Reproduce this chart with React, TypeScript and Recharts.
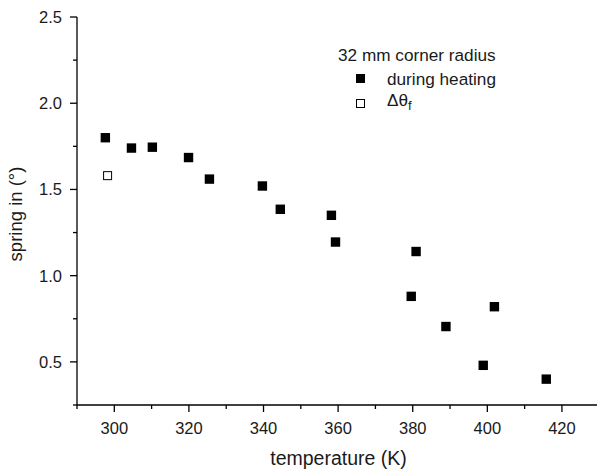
import React from 'react';
import { ScatterChart, Scatter, XAxis, YAxis } from 'recharts';

// during heating
const heatingTemp = [297.6, 304.6, 310.2, 319.9, 325.5, 339.7, 344.5, 358.2, 359.3, 379.6, 380.9, 388.9, 398.9, 401.9, 415.8];
const heatingSpring = [1.80, 1.74, 1.745, 1.685, 1.56, 1.52, 1.385, 1.35, 1.195, 0.88, 1.14, 0.705, 0.48, 0.82, 0.40];

// delta theta f
const finalTemp = [298.2];
const finalSpring = [1.58];

const xTicks = [290, 300, 310, 320, 330, 340, 350, 360, 370, 380, 390, 400, 410, 420];
const yTicks = [0.25, 0.5, 0.75, 1.0, 1.25, 1.5, 1.75, 2.0, 2.25, 2.5];

const heatingData = heatingTemp.map((t, i) => ({ t, s: heatingSpring[i] }));
const finalData = finalTemp.map((t, i) => ({ t, s: finalSpring[i] }));

const FONT = '"Liberation Sans", Arial, sans-serif';

const XTick = (props: any) => {
  const { x, y, payload } = props;
  const major = payload.value % 20 === 0;
  return (
    <g>
      <line x1={x} x2={x} y1={y} y2={y + (major ? 7 : 4)} stroke="#000" strokeWidth={1.3} />
      {major && (
        <text x={x} y={y + 23} textAnchor="middle" dominantBaseline="central" fontSize={16.5} fontFamily={FONT} fill="#1a1a1a">
          {payload.value}
        </text>
      )}
    </g>
  );
};

const YTick = (props: any) => {
  const { x, y, payload } = props;
  const major = Math.abs((payload.value * 2) % 1) < 1e-6;
  return (
    <g>
      <line x1={x - (major ? 7 : 4)} x2={x} y1={y} y2={y} stroke="#000" strokeWidth={1.3} />
      {major && (
        <text x={x - 15} y={y} textAnchor="end" dominantBaseline="central" fontSize={16.5} fontFamily={FONT} fill="#1a1a1a">
          {payload.value.toFixed(1)}
        </text>
      )}
    </g>
  );
};

const FilledSquare = (props: any) => (
  <rect x={props.cx - 4.7} y={props.cy - 4.7} width={9.4} height={9.4} fill="#000" />
);

const OpenSquare = (props: any) => (
  <rect x={props.cx - 4} y={props.cy - 4} width={8} height={8} fill="#fff" stroke="#000" strokeWidth={1} />
);

export default function App() {
  return (
    <div style={{ position: 'absolute', left: 0, top: 0, width: 597, height: 471, background: '#fff', overflow: 'hidden' }}>
      <ScatterChart width={597} height={471} margin={{ top: 17, right: 0, bottom: 0, left: 0 }}>
        <XAxis
          type="number"
          dataKey="t"
          domain={[290, 429.4]}
          ticks={xTicks}
          allowDataOverflow
          height={66}
          tickSize={0}
          tickMargin={0}
          tickLine={false}
          tick={<XTick />}
          axisLine={{ stroke: '#000', strokeWidth: 1.3 }}
          interval={0}
        />
        <YAxis
          type="number"
          dataKey="s"
          domain={[0.25, 2.5]}
          ticks={yTicks}
          allowDataOverflow
          width={77}
          tickSize={0}
          tickMargin={0}
          tickLine={false}
          tick={<YTick />}
          axisLine={{ stroke: '#000', strokeWidth: 1.3 }}
          interval={0}
        />
        <Scatter data={heatingData} shape={<FilledSquare />} isAnimationActive={false} />
        <Scatter data={finalData} shape={<OpenSquare />} isAnimationActive={false} />
      </ScatterChart>
      <div
        style={{
          position: 'absolute', left: 0, top: 214, width: 34, height: 0,
          fontFamily: FONT, fontSize: 18.5, color: '#1a1a1a',
        }}
      >
        <div style={{ position: 'absolute', left: 16, top: 0, transform: 'translate(-50%, -50%) rotate(-90deg)', whiteSpace: 'nowrap' }}>
          spring in (°)
        </div>
      </div>
      <div
        style={{
          position: 'absolute', left: 0, width: 597, top: 447, textAlign: 'center', paddingLeft: 80, boxSizing: 'border-box',
          fontFamily: FONT, fontSize: 19.5, color: '#1a1a1a', lineHeight: '22px',
        }}
      >
        temperature (K)
      </div>
      <div style={{ position: 'absolute', left: 338, top: 44, fontFamily: FONT, fontSize: 17.2, color: '#1a1a1a', lineHeight: '22px' }}>
        <div>32 mm corner radius</div>
        <div style={{ display: 'flex', alignItems: 'center', height: 25 }}>
          <span style={{ display: 'inline-block', width: 9, height: 9, background: '#000', marginLeft: 18, marginRight: 22 }} />
          <span>during heating</span>
        </div>
        <div style={{ display: 'flex', alignItems: 'center', height: 25 }}>
          <span style={{ display: 'inline-block', width: 7, height: 7, border: '1px solid #000', background: '#fff', marginLeft: 18, marginRight: 22 }} />
          <span>
            Δθ<sub style={{ fontSize: 13 }}>f</sub>
          </span>
        </div>
      </div>
    </div>
  );
}
